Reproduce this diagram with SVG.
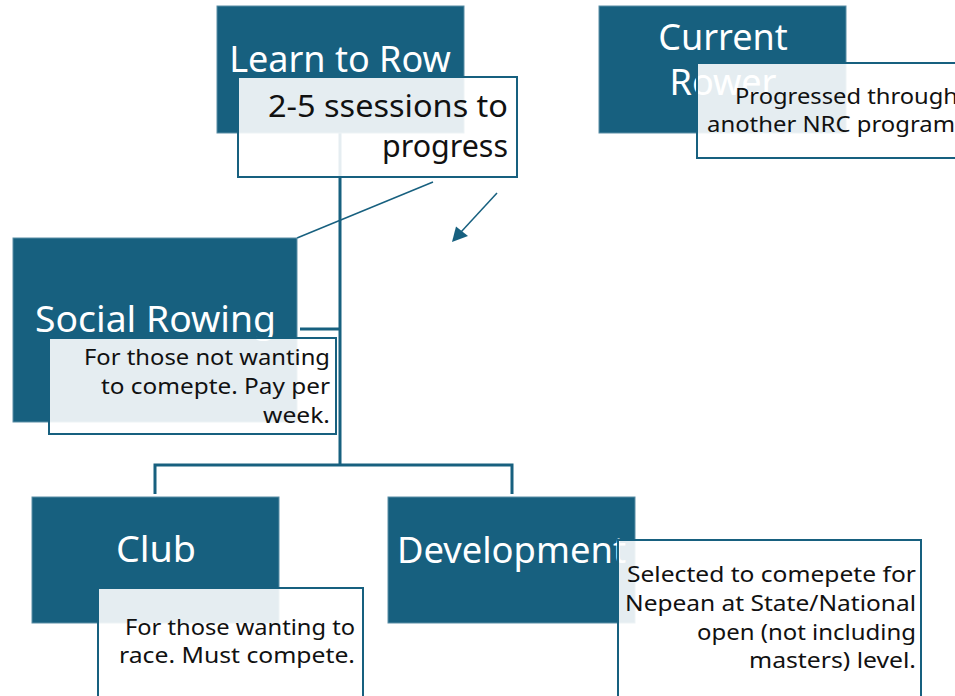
<svg xmlns="http://www.w3.org/2000/svg" width="955" height="696" viewBox="0 0 955 696">
<style>
.node{fill:#17607f;stroke:#5b8ea6;stroke-width:1}
.note{fill:#ffffff;fill-opacity:0.89;stroke:#17607f;stroke-width:2}
.title{font-family:"Noto Sans",sans-serif;font-size:36px;fill:#ffffff}
.txt{font-family:"Noto Sans",sans-serif;font-size:22.5px;fill:#111111}
.big{font-family:"Noto Sans",sans-serif;font-size:30.5px;fill:#111111}
.tree{stroke:#17607f;stroke-width:3;fill:none}
.thin{stroke:#17607f;stroke-width:1.5;fill:none}
.head{fill:#17607f}
</style>
<rect width="955" height="696" fill="#ffffff"/>
<g id="connectors">
<path class="tree" d="M340,133 V465"/>
<path class="tree" d="M300,329 H340"/>
<path class="tree" d="M155,494 V465 H512 V494"/>
<path class="thin" d="M433,182 L297,238"/>
<path class="thin" d="M497,193 L461,232"/>
<polygon class="head" points="452,242 456,226.5 468,236"/>
</g>
<g id="learn-to-row">
<rect class="node" x="217" y="6" width="247" height="127"/>
<text class="title" x="340" y="72" text-anchor="middle">Learn to Row</text>
<rect class="note" x="238" y="77" width="279" height="100"/>
<text class="big" x="268" y="117" textLength="240" lengthAdjust="spacingAndGlyphs">2-5 ssessions to</text>
<text class="big" x="382" y="157" textLength="126" lengthAdjust="spacingAndGlyphs">progress</text>
</g>
<g id="current-rower">
<rect class="node" x="599" y="6" width="247" height="127"/>
<text class="title" x="723" y="50" text-anchor="middle">Current</text>
<text class="title" x="723" y="95" text-anchor="middle">Rower</text>
<rect class="note" x="697" y="63" width="280" height="95"/>
<text class="txt" x="735" y="104" textLength="223" lengthAdjust="spacingAndGlyphs">Progressed through</text>
<text class="txt" x="707" y="132" textLength="248" lengthAdjust="spacingAndGlyphs">another NRC program</text>
</g>
<g id="social-rowing">
<rect class="node" x="13" y="238" width="284" height="184"/>
<text class="title" x="35" y="332" textLength="241" lengthAdjust="spacingAndGlyphs">Social Rowing</text>
<rect class="note" x="49" y="338" width="287" height="96"/>
<text class="txt" x="84" y="365" textLength="246" lengthAdjust="spacingAndGlyphs">For those not wanting</text>
<text class="txt" x="101" y="394" textLength="229" lengthAdjust="spacingAndGlyphs">to comepte. Pay per</text>
<text class="txt" x="263" y="423" textLength="67" lengthAdjust="spacingAndGlyphs">week.</text>
</g>
<g id="club">
<rect class="node" x="32" y="497" width="247" height="126"/>
<text class="title" x="116" y="562" textLength="80" lengthAdjust="spacingAndGlyphs">Club</text>
<rect class="note" x="98" y="588" width="265" height="120"/>
<text class="txt" x="125" y="635" textLength="230" lengthAdjust="spacingAndGlyphs">For those wanting to</text>
<text class="txt" x="119" y="663" textLength="236" lengthAdjust="spacingAndGlyphs">race. Must compete.</text>
</g>
<g id="development">
<rect class="node" x="388" y="497" width="247" height="126"/>
<text class="title" x="397" y="563" textLength="229" lengthAdjust="spacingAndGlyphs">Development</text>
<rect class="note" x="618" y="540" width="303" height="168"/>
<text class="txt" x="627" y="582" textLength="289" lengthAdjust="spacingAndGlyphs">Selected to comepete for</text>
<text class="txt" x="625" y="611" textLength="291" lengthAdjust="spacingAndGlyphs">Nepean at State/National</text>
<text class="txt" x="697" y="640" textLength="219" lengthAdjust="spacingAndGlyphs">open (not including</text>
<text class="txt" x="749" y="668" textLength="167" lengthAdjust="spacingAndGlyphs">masters) level.</text>
</g>
</svg>
